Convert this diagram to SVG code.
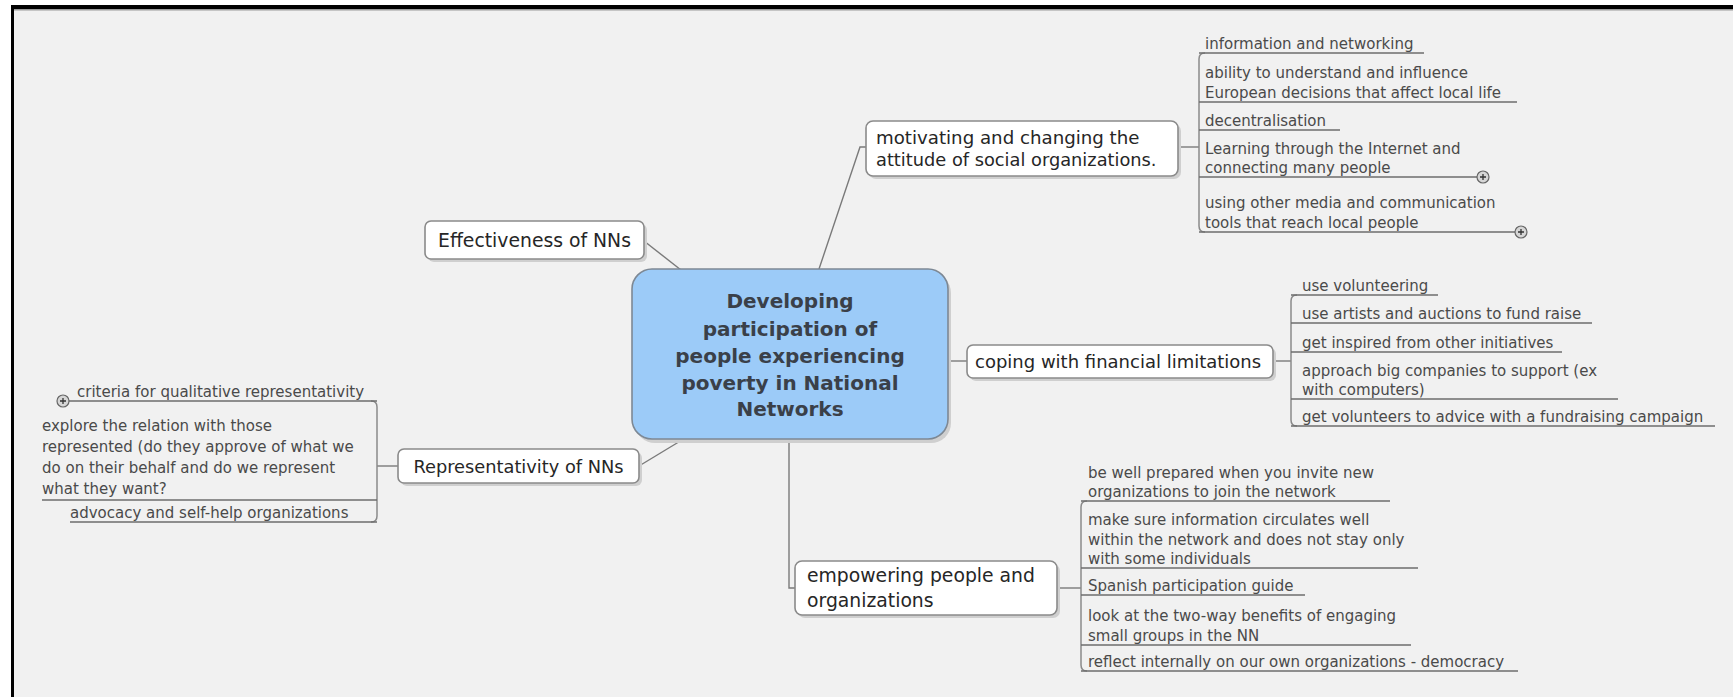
<svg xmlns="http://www.w3.org/2000/svg" width="1733" height="697" viewBox="0 0 1733 697">
<defs>
<style>
.frame{fill:#000}
.shadow{fill:#cfcfcf}
.box{fill:#ffffff;stroke:#8a8a8a;stroke-width:1.6}
.central{fill:#9ccbf8;stroke:#7d8894;stroke-width:1.6}
.lbl{font-family:"DejaVu Sans",sans-serif;fill:#262626}
.ctext{font-family:"DejaVu Sans",sans-serif;font-weight:bold;font-size:20px;fill:#3a4049;text-anchor:middle}
.child{font-family:"DejaVu Sans",sans-serif;font-size:15px;fill:#4a4a4a}
.conn{stroke:#7a7a7a;stroke-width:1.4;fill:none}
.ul{stroke:#6c6c6c;stroke-width:1.6;fill:none}
.brk{stroke:#8a8a8a;stroke-width:1.5;fill:none}
.col circle{fill:#d6d6d6;stroke:#666;stroke-width:1.2}
.col path{stroke:#333;stroke-width:1.3}
</style>
</defs>
<rect x="0" y="0" width="1733" height="697" fill="#ffffff"/>
<rect x="14" y="9" width="1719" height="688" fill="#f1f1f1"/>
<rect class="frame" x="11" y="5" width="1722" height="4"/>
<rect x="14" y="9" width="1719" height="1.5" fill="#9a9a9a"/>
<rect class="frame" x="11" y="5" width="3" height="692"/>

<g id="connectors">
<path class="conn" d="M644 241 L681 270"/>
<path class="conn" d="M819 269 L860 147 L866 147"/>
<path class="conn" d="M948 361 L967 361"/>
<path class="conn" d="M789 439 L789 588 L795 588"/>
<path class="conn" d="M682 440 L639 466"/>
<path class="conn" d="M1178 147 L1199 147"/>
<path class="conn" d="M1273 361 L1291 361"/>
<path class="conn" d="M1057 588 L1081 588"/>
<path class="conn" d="M398 466 L377 466"/>
<path class="brk" d="M1205 53 Q1199 53 1199 59 L1199 226 Q1199 232 1205 232"/>
<path class="brk" d="M1297 295 Q1291 295 1291 301 L1291 420 Q1291 426 1297 426"/>
<path class="brk" d="M1087 501 Q1081 501 1081 507 L1081 665 Q1081 671 1087 671"/>
<path class="brk" d="M371 401 Q377 401 377 407 L377 516 Q377 522 371 522"/>
</g>

<g id="central">
<rect class="shadow" x="635" y="273" width="316" height="170" rx="20"/>
<rect class="central" x="632" y="269" width="316" height="170" rx="20"/>
<text class="ctext" x="790" y="308">Developing</text>
<text class="ctext" x="790" y="336">participation of</text>
<text class="ctext" x="790" y="363">people experiencing</text>
<text class="ctext" x="790" y="390">poverty in National</text>
<text class="ctext" x="790" y="416">Networks</text>
</g>

<g id="effectiveness">
<rect class="shadow" x="428" y="224" width="219" height="38" rx="6"/>
<rect class="box" x="425" y="221" width="219" height="38" rx="6"/>
<text class="lbl" x="534.5" y="247" font-size="18.8" text-anchor="middle">Effectiveness of NNs</text>
</g>

<g id="representativity">
<rect class="shadow" x="401" y="452" width="241" height="34" rx="6"/>
<rect class="box" x="398" y="449" width="241" height="34" rx="6"/>
<text class="lbl" x="518.5" y="472.5" font-size="17.8" text-anchor="middle">Representativity of NNs</text>
</g>

<g id="motivating">
<rect class="shadow" x="869" y="124" width="312" height="55" rx="7"/>
<rect class="box" x="866" y="121" width="312" height="55" rx="7"/>
<text class="lbl" x="876" y="144" font-size="18.2">motivating and changing the</text>
<text class="lbl" x="876" y="166" font-size="17.8">attitude of social organizations.</text>
</g>

<g id="coping">
<rect class="shadow" x="970" y="348" width="306" height="33" rx="6"/>
<rect class="box" x="967" y="345" width="306" height="33" rx="6"/>
<text class="lbl" x="975" y="368" font-size="18">coping with financial limitations</text>
</g>

<g id="empowering">
<rect class="shadow" x="798" y="564" width="262" height="54" rx="7"/>
<rect class="box" x="795" y="561" width="262" height="54" rx="7"/>
<text class="lbl" x="807" y="582" font-size="18.8">empowering people and</text>
<text class="lbl" x="807" y="607" font-size="18.8">organizations</text>
</g>

<g id="m-information">
<text class="child" x="1205" y="49">information and networking</text>
<path class="ul" d="M1199 53 L1424 53"/>
</g>
<g id="m-ability">
<text class="child" x="1205" y="78">ability to understand and influence</text>
<text class="child" x="1205" y="98">European decisions that affect local life</text>
<path class="ul" d="M1199 102 L1517 102"/>
</g>
<g id="m-decentralisation">
<text class="child" x="1205" y="126">decentralisation</text>
<path class="ul" d="M1199 130 L1340 130"/>
</g>
<g id="m-learning">
<text class="child" x="1205" y="154">Learning through the Internet and</text>
<text class="child" x="1205" y="173">connecting many people</text>
<path class="ul" d="M1199 177 L1477 177"/>
<g class="col"><circle cx="1483" cy="177" r="6"/><path d="M1480 177 H1486 M1483 174 V180"/></g>
</g>
<g id="m-media">
<text class="child" x="1205" y="208">using other media and communication</text>
<text class="child" x="1205" y="228">tools that reach local people</text>
<path class="ul" d="M1199 232 L1515 232"/>
<g class="col"><circle cx="1521" cy="232" r="6"/><path d="M1518 232 H1524 M1521 229 V235"/></g>
</g>

<g id="c-volunteering">
<text class="child" x="1302" y="291">use volunteering</text>
<path class="ul" d="M1291 295 L1438 295"/>
</g>
<g id="c-artists">
<text class="child" x="1302" y="319">use artists and auctions to fund raise</text>
<path class="ul" d="M1291 323 L1592 323"/>
</g>
<g id="c-inspired">
<text class="child" x="1302" y="348">get inspired from other initiatives</text>
<path class="ul" d="M1291 352 L1562 352"/>
</g>
<g id="c-companies">
<text class="child" x="1302" y="376">approach big companies to support (ex</text>
<text class="child" x="1302" y="395">with computers)</text>
<path class="ul" d="M1291 399 L1618 399"/>
</g>
<g id="c-campaign">
<text class="child" x="1302" y="422">get volunteers to advice with a fundraising campaign</text>
<path class="ul" d="M1291 426 L1715 426"/>
</g>

<g id="e-prepared">
<text class="child" x="1088" y="478">be well prepared when you invite new</text>
<text class="child" x="1088" y="497">organizations to join the network</text>
<path class="ul" d="M1081 501 L1390 501"/>
</g>
<g id="e-information">
<text class="child" x="1088" y="525">make sure information circulates well</text>
<text class="child" x="1088" y="545">within the network and does not stay only</text>
<text class="child" x="1088" y="564">with some individuals</text>
<path class="ul" d="M1081 568 L1418 568"/>
</g>
<g id="e-guide">
<text class="child" x="1088" y="591">Spanish participation guide</text>
<path class="ul" d="M1081 595 L1305 595"/>
</g>
<g id="e-benefits">
<text class="child" x="1088" y="621">look at the two-way benefits of engaging</text>
<text class="child" x="1088" y="641">small groups in the NN</text>
<path class="ul" d="M1081 645 L1411 645"/>
</g>
<g id="e-reflect">
<text class="child" x="1088" y="667">reflect internally on our own organizations - democracy</text>
<path class="ul" d="M1081 671 L1518 671"/>
</g>

<g id="r-criteria">
<text class="child" x="77" y="397">criteria for qualitative representativity</text>
<path class="ul" d="M69 401 L377 401"/>
<g class="col"><circle cx="63" cy="401" r="6"/><path d="M60 401 H66 M63 398 V404"/></g>
</g>
<g id="r-explore">
<text class="child" x="42" y="431">explore the relation with those</text>
<text class="child" x="42" y="452">represented (do they approve of what we</text>
<text class="child" x="42" y="473">do on their behalf and do we represent</text>
<text class="child" x="42" y="494">what they want?</text>
<path class="ul" d="M42 500 L377 500"/>
</g>
<g id="r-advocacy">
<text class="child" x="70" y="518">advocacy and self-help organizations</text>
<path class="ul" d="M70 522 L377 522"/>
</g>
</svg>
